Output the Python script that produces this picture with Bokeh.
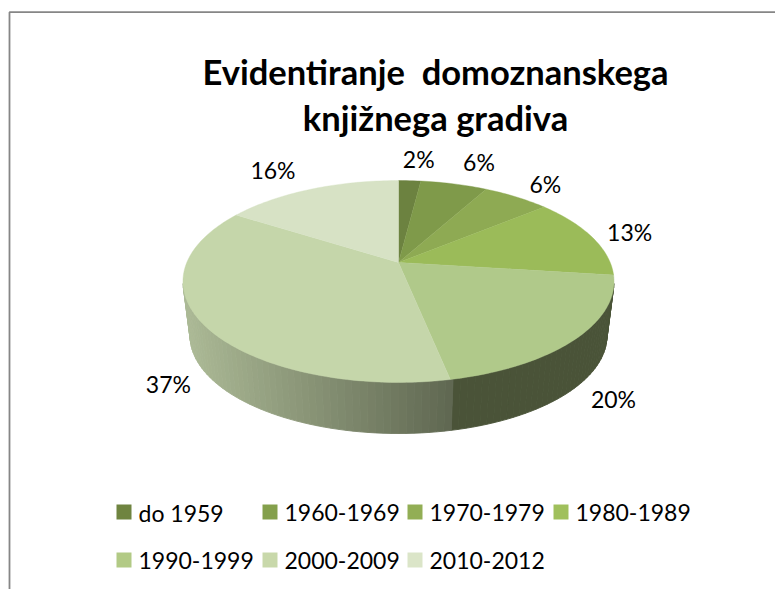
from bokeh.plotting import figure
from bokeh.models import Range1d
from bokeh.core.properties import value
from bokeh.embed import file_html
from bokeh.resources import INLINE
import math

title_lines = ["Evidentiranje \u00a0domoznanskega", "knjižnega gradiva"]
categories = ["do 1959", "1960-1969", "1970-1979", "1980-1989", "1990-1999", "2000-2009", "2010-2012"]
percent = [2, 6, 6, 13, 19.8, 37.2, 16]
colors = ["#6c8240", "#7f9a4a", "#8eaa53", "#9bbb59", "#b0c98a", "#c5d6aa", "#d7e2c5"]
legend_colors = ["#6f8440", "#84a04c", "#92ae55", "#a0c05c", "#b2ca85", "#c8d8aa", "#dbe5c8"]
wall_dark = "#4a5338"
wall_light = (172, 186, 150)
wall_end = (96, 104, 82)

W, H = 775, 589
CX, CY = 398, 262
A, B, K = 211.7, 97.4, 0.188
SHRINK, DROP = 0.967, 55
FONT = "Lato"


def rim(turn, scale=1.0, drop=0.0):
    t = 2 * math.pi * turn
    w = 1 + K * math.cos(t)
    return CX + scale * A * math.sin(t) / w, CY - scale * B * math.cos(t) / w + drop


p = figure(width=W, height=H, output_backend="svg", toolbar_location=None,
           x_range=Range1d(0, W), y_range=Range1d(H, 0), min_border=0)
p.axis.visible = False
p.grid.visible = False
p.outline_line_color = None
p.background_fill_color = "white"
p.border_fill_color = "white"

# frame: left and top edges only
p.line([9, 9, W + 2], [H + 2, 11.7, 11.7], line_color="#868686", line_width=1.8)

total = sum(percent)
edges = [0]
for v in percent:
    edges.append(edges[-1] + v / total)

# side wall, light to dark from the left
seam = edges[5]
start, end = 102 / 360, 258 / 360
n = 90
for i in range(n):
    a0 = start + (end - start) * i / n
    a1 = start + (end - start) * (i + 1) / n
    mid = (a0 + a1) / 2
    if mid < seam:
        col = wall_dark
    else:
        x = rim(mid)[0]
        x0, x1 = rim(end)[0], rim(seam)[0]
        f = max(0.0, min(1.0, (x - x0) / (x1 - x0)))
        col = "#%02x%02x%02x" % tuple(round(l + (e - l) * f) for l, e in zip(wall_light, wall_end))
    t0, t1, b1, b0 = rim(a0), rim(a1), rim(a1, SHRINK, DROP), rim(a0, SHRINK, DROP)
    p.patch([t0[0], t1[0], b1[0], b0[0]], [t0[1], t1[1], b1[1], b0[1]],
            fill_color=col, line_color=col, line_width=0.9)

# top face
for i, c in enumerate(colors):
    steps = max(4, int(percent[i] * 3))
    pts = [rim(edges[i] + (edges[i + 1] - edges[i]) * s / steps) for s in range(steps + 1)]
    p.patch([CX] + [q[0] for q in pts], [CY] + [q[1] for q in pts],
            fill_color=c, line_color=c, line_width=0.4)

# data labels: projected slice middle plus a nudge
nudges = [(9, -22), (25, -22), (29, -13), (38, -5), (37, 61), (-35, 60), (-38, -19)]
for i, v in enumerate(percent):
    q = rim((edges[i] + edges[i + 1]) / 2)
    p.text([q[0] + nudges[i][0]], [q[1] + nudges[i][1]], text=[f"{round(v)}%"],
           text_font=value(FONT), text_font_size="23px", text_color="#000000",
           text_align="center", text_baseline="middle")

# title
for line, y in zip(title_lines, [71, 117]):
    p.text([435], [y], text=[line], text_font=value(FONT), text_font_style="bold",
           text_font_size="34.5px", text_color="#000000", text_align="center", text_baseline="middle")

# legend
cols_x = [116, 262, 407, 553]
rows_y = [512, 560]
for i, name in enumerate(categories):
    x = cols_x[i % 4]
    y = rows_y[i // 4]
    p.quad(left=[x], right=[x + 15], top=[y - 8], bottom=[y + 7], fill_color=legend_colors[i], line_color=None)
    p.text([x + 22], [y], text=[name], text_font=value(FONT), text_font_size="23px",
           text_color="#000000", text_align="left", text_baseline="middle")

open("out.html", "w").write(file_html(p, INLINE))
